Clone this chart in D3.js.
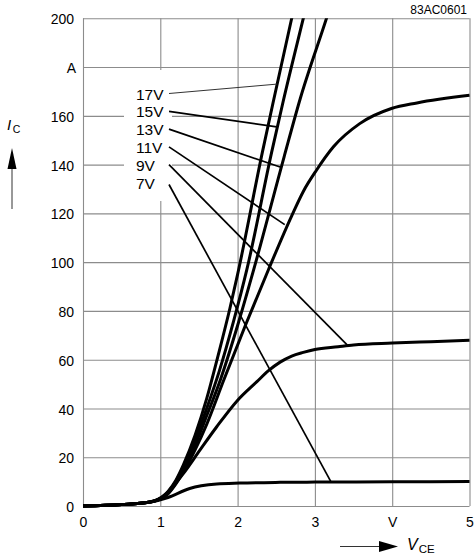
<!DOCTYPE html>
<html><head><meta charset="utf-8">
<script src="https://cdn.jsdelivr.net/npm/d3@7"></script>
<style>
body{margin:0;background:#fff}
svg{display:block}
text{font-family:"Liberation Sans",Arial,Helvetica,sans-serif;fill:#000}
</style>
</head><body>
<svg id="chart" width="475" height="556"></svg>
<script>
// Axis ticks and their printed labels (unit letters replace one tick each)
const xTicks = [0, 1, 2, 3, 4, 5];
const xTickLabels = ["0", "1", "2", "3", "V", "5"];
const yTicks = [0, 20, 40, 60, 80, 100, 120, 140, 160, 180, 200];
const yTickLabels = ["0", "20", "40", "60", "80", "100", "120", "140", "160", "A", "200"];

// Output characteristics I_C = f(V_CE), one curve per gate voltage: [V_CE (V), I_C (A)]
const curve17V = [[0,0],[0.5,0.6],[0.85,1.5],[1.0,3],[1.1,6],[1.2,10.5],[1.3,17],[1.45,29],[1.6,44],[1.75,62],[1.9,81],[2.0,95],[2.32,145],[2.47,167],[2.7,200],[2.8,214]];
const curve15V = [[0,0],[0.5,0.6],[0.85,1.5],[1.0,3],[1.1,5.5],[1.2,10],[1.3,16],[1.45,27],[1.6,40],[1.76,55],[1.95,76],[2.12,97],[2.44,145],[2.59,166],[2.85,200],[2.95,213]];
const curve13V = [[0,0],[0.5,0.6],[0.85,1.5],[1.0,3],[1.1,5.2],[1.2,9.5],[1.3,15],[1.45,25],[1.6,37],[1.78,52],[2.0,74],[2.2,96],[2.6,143],[2.81,167],[3.15,200],[3.25,210]];
const curve11V = [[0,0],[0.5,0.6],[0.85,1.5],[1.0,3],[1.1,5],[1.2,9],[1.3,14],[1.45,23],[1.6,33.5],[1.82,51.6],[2.1,74],[2.4,97],[2.7,119],[2.85,129],[3.02,137.7],[3.24,147.3],[3.58,156.8],[3.99,163],[4.32,165.3],[5,168.4]];
const curve9V  = [[0,0],[0.5,0.6],[0.85,1.5],[1.08,5.2],[1.3,13.4],[1.51,22.8],[1.73,32.5],[1.99,43],[2.25,51],[2.4,55.5],[2.55,59],[2.7,61.5],[2.85,63],[3.0,64.2],[3.3,65.3],[3.5,66],[4,66.8],[4.5,67.4],[5,68]];
const curve7V  = [[0,0],[0.5,0.6],[0.85,1.5],[1.1,3.5],[1.38,7.2],[1.73,9.0],[2.03,9.4],[2.55,9.7],[3,9.8],[4,9.9],[5,10]];

// Gate-voltage labels and the point on each curve their leader line touches
const gateLabels = ["17V", "15V", "13V", "11V", "9V", "7V"];
const leaderTargets = [[2.506,173],[2.506,155.5],[2.55,139],[2.61,115.4],[3.42,66],[3.21,9.8]];
const curves = [curve17V, curve15V, curve13V, curve11V, curve9V, curve7V];

const svg = d3.select("#chart");
const plotL = 83, plotR = 469.5, plotT = 18.3, plotB = 506;
const x = d3.scaleLinear().domain([0, 5]).range([plotL, plotR]);
const y = d3.scaleLinear().domain([0, 200]).range([plotB, plotT]);

// grid + tick labels
const gx = svg.append("g").attr("transform", `translate(0,${plotB})`)
  .call(d3.axisBottom(x).tickValues(xTicks).tickSize(-(plotB - plotT)).tickPadding(11)
        .tickFormat((d, i) => xTickLabels[i]));
const gy = svg.append("g").attr("transform", `translate(${plotL},0)`)
  .call(d3.axisLeft(y).tickValues(yTicks).tickSize(-(plotR - plotL)).tickPadding(9)
        .tickFormat((d, i) => yTickLabels[i]));
[gx, gy].forEach(g => {
  g.select(".domain").remove();
  g.selectAll(".tick line").attr("stroke", "#8c8c8c").attr("stroke-width", 1.1);
  g.selectAll(".tick text").attr("font-size", 14).attr("fill", "#000")
    .style("font-family", '"Liberation Sans",Arial,sans-serif');
});
gy.selectAll(".tick text").attr("dy", "0.4em");
gy.selectAll(".tick").filter(d => d === 180).select("text").attr("x", -7);

// white panel behind the gate-voltage labels
svg.append("rect").attr("x", 124).attr("y", 70).attr("width", 48).attr("height", 131).attr("fill", "#fff");

// curves
svg.append("clipPath").attr("id", "plotClip").append("rect")
  .attr("x", 0).attr("y", plotT).attr("width", 475).attr("height", 556 - plotT);
const line = d3.line().x(d => x(d[0])).y(d => y(d[1])).curve(d3.curveMonotoneX);
svg.append("g").attr("clip-path", "url(#plotClip)")
  .selectAll("path").data(curves).join("path")
  .attr("d", line).attr("fill", "none").attr("stroke", "#000")
  .attr("stroke-width", 3).attr("stroke-linejoin", "round");

// labels with leader lines
const labelX = 136, labelBase = 99.5, labelStep = 17.8;
const lab = svg.append("g");
gateLabels.forEach((t, i) => {
  const by = labelBase + i * labelStep;
  lab.append("text").attr("x", labelX).attr("y", by).attr("font-size", 15.5).text(t);
  const [tv, ti] = leaderTargets[i];
  lab.append("line")
    .attr("x1", 169).attr("y1", by - (i === 5 ? 4 : 6))
    .attr("x2", x(tv)).attr("y2", y(ti))
    .attr("stroke", i === 0 ? "#333" : "#000")
    .attr("stroke-width", i === 0 ? 1 : 1.7);
});

// axis titles with arrows
const yt = svg.append("text").attr("x", 7).attr("y", 130);
yt.append("tspan").attr("font-size", 15).attr("font-style", "italic").text("I");
yt.append("tspan").attr("font-size", 10.5).attr("dx", 1.5).attr("dy", 3).text("C");
svg.append("line").attr("x1", 12).attr("y1", 209).attr("x2", 12).attr("y2", 166)
  .attr("stroke", "#333").attr("stroke-width", 1);
svg.append("path").attr("d", "M12,148 L7.5,169 L16.5,169 Z").attr("fill", "#000");

const xt = svg.append("text").attr("x", 407).attr("y", 550);
xt.append("tspan").attr("font-size", 16).attr("font-style", "italic").text("V");
xt.append("tspan").attr("font-size", 11.5).attr("dx", 1).attr("dy", 3).text("CE");
svg.append("line").attr("x1", 340).attr("y1", 546.5).attr("x2", 382).attr("y2", 546.5)
  .attr("stroke", "#333").attr("stroke-width", 1);
svg.append("path").attr("d", "M398,546.5 L379,541 L379,552 Z").attr("fill", "#000");

svg.append("text").attr("x", 467).attr("y", 14).attr("text-anchor", "end")
  .attr("font-size", 12).text("83AC0601");
</script>
</body></html>
